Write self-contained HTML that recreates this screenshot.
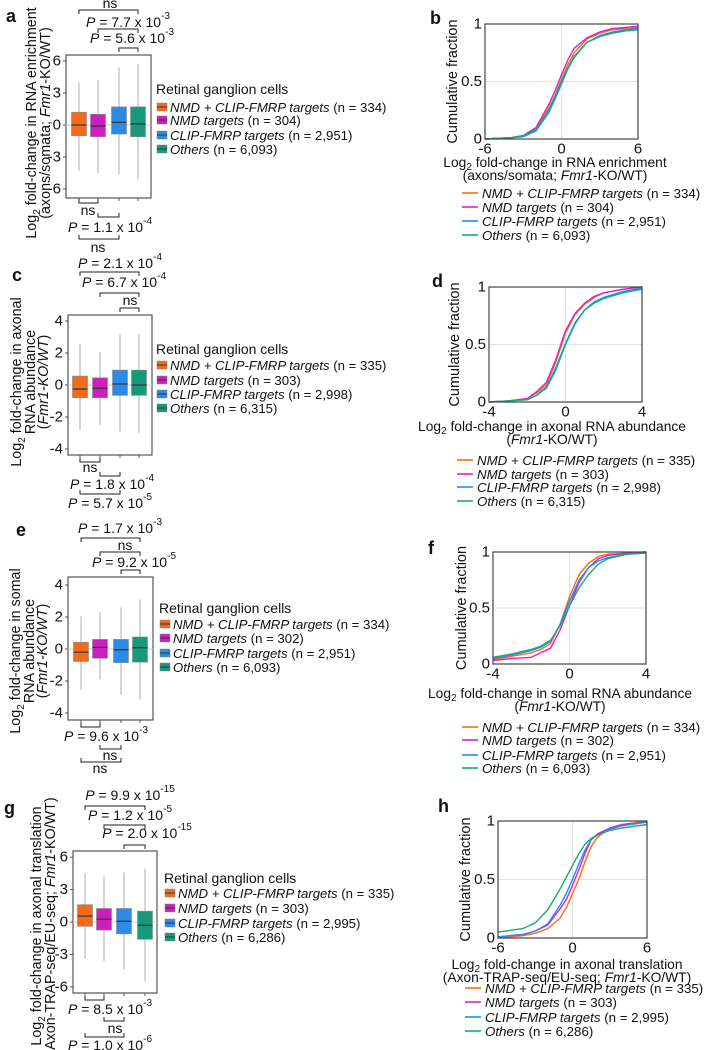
<!DOCTYPE html>
<html><head><meta charset="utf-8"><style>
html,body{margin:0;padding:0;background:#fff;}
svg{display:block;font-family:"Liberation Sans",Arial,sans-serif;}
</style></head><body>
<svg id="fig" width="708" height="1050" viewBox="0 0 708 1050" xmlns="http://www.w3.org/2000/svg"></svg>
<script>
// ---------- DATA ----------
const groups = ["NMD + CLIP-FMRP targets","NMD targets","CLIP-FMRP targets","Others"];
const colors = ["#f26a1b","#cc1fbf","#2b8be6","#17997a"];
const lineColors = ["#ff6a10","#e21fd2","#1f90f5","#1aa878"];
const nA = ["334","304","2,951","6,093"];
const nC = ["335","303","2,998","6,315"];
const nE = ["334","302","2,951","6,093"];
const nG = ["335","303","2,995","6,286"];
// box stats: [whiskerLow, q1, median, q3, whiskerHigh]
const boxA = [[-4.3,-1.0,0.0,1.2,4.0],[-4.5,-1.1,-0.1,1.0,4.2],[-4.6,-0.85,0.25,1.7,5.4],[-5.1,-1.1,0.1,1.7,5.7]];
const boxC = [[-2.8,-0.8,-0.25,0.56,2.55],[-2.5,-0.8,-0.2,0.45,2.05],[-2.9,-0.65,0.06,0.93,3.2],[-3.0,-0.65,0.0,0.93,3.2]];
const boxE = [[-2.55,-0.78,-0.2,0.42,2.05],[-1.9,-0.58,0.1,0.6,2.3],[-2.85,-0.85,-0.05,0.6,2.6],[-3.15,-0.82,0.08,0.75,3.1]];
const boxG = [[-3.4,-0.4,0.55,1.6,4.55],[-3.65,-0.75,0.27,1.25,4.2],[-4.4,-1.1,0.07,1.25,4.6],[-5.5,-1.6,-0.3,1.0,4.95]];
const ticksA = [6,3,0,-3,-6];
const ticksC = [4,2,0,-2,-4];
// CDF data
const xB = [-6,-4,-3,-2,-1,-0.5,0,0.5,1,2,3,4,5,6];
const cdfB = [
 [0,0.01,0.03,0.09,0.27,0.38,0.52,0.65,0.75,0.87,0.92,0.95,0.96,0.97],
 [0,0.01,0.03,0.10,0.30,0.42,0.56,0.69,0.79,0.88,0.93,0.96,0.97,0.98],
 [0,0.01,0.02,0.07,0.23,0.35,0.48,0.61,0.71,0.84,0.90,0.93,0.95,0.96],
 [0,0.01,0.03,0.08,0.25,0.37,0.50,0.62,0.72,0.84,0.89,0.92,0.94,0.95]];
const xD = [-4,-3,-2,-1.5,-1,-0.5,0,0.5,1,1.5,2,3,4];
const cdfD = [
 [0,0.01,0.03,0.08,0.15,0.35,0.60,0.76,0.85,0.91,0.95,0.98,1.0],
 [0,0.01,0.03,0.09,0.17,0.37,0.62,0.77,0.86,0.92,0.95,0.98,1.0],
 [0,0.01,0.02,0.06,0.12,0.28,0.50,0.68,0.80,0.87,0.91,0.96,0.99],
 [0,0.01,0.02,0.06,0.13,0.30,0.51,0.69,0.80,0.86,0.90,0.95,0.98]];
const xF = [-4,-3,-2,-1.5,-1,-0.5,0,0.5,1,1.5,2,3,4];
const cdfF = [
 [0.04,0.07,0.10,0.13,0.18,0.35,0.60,0.80,0.90,0.96,0.98,0.99,1.0],
 [0.03,0.05,0.06,0.10,0.14,0.30,0.52,0.73,0.86,0.94,0.97,0.99,1.0],
 [0.05,0.08,0.12,0.15,0.20,0.35,0.56,0.75,0.86,0.92,0.95,0.98,0.99],
 [0.06,0.09,0.13,0.16,0.21,0.34,0.52,0.68,0.80,0.89,0.94,0.98,0.99]];
const xH = [-6,-4,-3,-2,-1,-0.5,0,0.5,1,1.5,2,3,4,6];
const cdfH = [
 [0,0.02,0.04,0.08,0.17,0.26,0.38,0.50,0.65,0.78,0.86,0.94,0.97,1.0],
 [0.01,0.03,0.06,0.11,0.25,0.33,0.45,0.58,0.72,0.84,0.89,0.94,0.97,0.99],
 [0.01,0.03,0.06,0.12,0.28,0.38,0.50,0.63,0.75,0.84,0.88,0.93,0.96,0.99],
 [0.05,0.08,0.13,0.24,0.42,0.52,0.62,0.72,0.80,0.85,0.88,0.92,0.94,0.97]];

// ---------- HELPERS ----------
const NS="http://www.w3.org/2000/svg";
const FS=14;
const svg=document.getElementById('fig');
function el(tag,attrs,parent){const e=document.createElementNS(NS,tag);for(const k in attrs)e.setAttribute(k,attrs[k]);(parent||svg).appendChild(e);return e;}
function txt(x,y,s,opts,parent){opts=opts||{};const t=el('text',{x:x,y:y,'font-size':opts.fs||FS,'text-anchor':opts.anchor||'start','dominant-baseline':'central',fill:'#111'},parent);
 if(opts.weight)t.setAttribute('font-weight',opts.weight);
 if(opts.italic)t.setAttribute('font-style','italic');
 if(opts.rot)t.setAttribute('transform','rotate(-90 '+x+' '+y+')');
 t.textContent=s;return t;}
function span(t,s,opts){const ts=document.createElementNS(NS,'tspan');opts=opts||{};if(opts.italic)ts.setAttribute('font-style','italic');if(opts.sup){ts.setAttribute('baseline-shift','super');ts.setAttribute('font-size','10');}if(opts.sub){ts.setAttribute('baseline-shift','sub');ts.setAttribute('font-size','10');}ts.textContent=s;t.appendChild(ts);return ts;}
function line(x1,y1,x2,y2,c,w,parent){return el('line',{x1:x1,y1:y1,x2:x2,y2:y2,stroke:c,'stroke-width':w||1},parent);}
function pLabel(cx,cy,val,exp,g){const t=el('text',{x:cx,y:cy,'font-size':FS,'text-anchor':'middle','dominant-baseline':'central',fill:'#111'},g);
 
 span(t,'P',{italic:true});span(t,' = '+val+' x 10');span(t,exp,{sup:true});return t;}
function bracket(x1,x2,y,dir,g){const p=el('path',{d:'M'+x1+' '+(y+4*dir)+' V'+y+' H'+x2+' V'+(y+4*dir),fill:'none',stroke:'#222','stroke-width':1},g);
 }
function letter(x,y,s){const t=txt(x,y,s,{fs:18,weight:'bold'});}

function boxPanel(cfg){
 const g=el('g',{});
 const yS=v=>cfg.y0-v*cfg.ppu;
 const fr=el('rect',{x:cfg.fx1,y:cfg.fy1,width:cfg.fx2-cfg.fx1,height:cfg.fy2-cfg.fy1,fill:'none',stroke:'#555','stroke-width':1.2},g);
 
 line(cfg.fx1,yS(0),cfg.fx2,yS(0),'#ccc',1,g);
 cfg.ticks.forEach(tv=>{line(cfg.fx1-3,yS(tv),cfg.fx1,yS(tv),'#555',1,g);
  const t=txt(cfg.fx1-5,yS(tv),String(tv),{fs:15,anchor:'end'},g);});
 cfg.centers.forEach(cx=>line(cx,cfg.fy2,cx,cfg.fy2+3,'#555',1,g));
 cfg.data.forEach((d,i)=>{const cx=cfg.centers[i],w=15;
  const wl=line(cx,yS(d[0]),cx,yS(d[4]),'#bbb',1.2,g);
  const r=el('rect',{x:cx-w/2,y:yS(d[3]),width:w,height:yS(d[1])-yS(d[3]),fill:colors[i],stroke:'#888','stroke-width':0.6},g);
  
  line(cx-w/2,yS(d[2]),cx+w/2,yS(d[2]),'#333',1.2,g);});
 cfg.ytitle.forEach((ln,i)=>{const x=cfg.ytx[i];const t=el('text',{x:x,y:cfg.yty,'font-size':14.3,'text-anchor':'middle','dominant-baseline':'central',fill:'#111',transform:'rotate(-90 '+x+' '+cfg.yty+')'},g);
  
  ln.forEach(p=>span(t,p[0],p[1]));});
 const lt=txt(cfg.lx-1,cfg.ly[0],'Retinal ganglion cells',{fs:14},g);
 groups.forEach((gname,i)=>{const y=cfg.ly[i+1];const lg=el('g',{},g);
  el('rect',{x:cfg.lx,y:y-4,width:10,height:8,fill:colors[i],stroke:'#888','stroke-width':0.5},lg);line(cfg.lx,y,cfg.lx+10,y,'#333',1,lg);
  const t=el('text',{x:cfg.lx+13,y:y,'font-size':13.2,'dominant-baseline':'central',fill:'#111'},lg);span(t,gname,{italic:true});span(t,' (n = '+cfg.n[i]+')');});
 cfg.brackets.forEach(b=>bracket(cfg.centers[b[0]],cfg.centers[b[1]],b[2],b[3],g));
 cfg.labels.forEach(l=>{if(l[2]==='ns'){const t=txt(l[0],l[1],'ns',{fs:FS,anchor:'middle'},g);}else pLabel(l[0],l[1],l[2],l[3],g);});
}

function cdfPanel(cfg){
 const g=el('g',{});
 const xS=v=>cfg.x1+(v-cfg.xmin)/(cfg.xmax-cfg.xmin)*(cfg.x2-cfg.x1);
 const yS=v=>cfg.y2-v*(cfg.y2-cfg.y1);
 line(xS(0),cfg.y1,xS(0),cfg.y2,'#e2e2e2',1,g);line(cfg.x1,yS(0.5),cfg.x2,yS(0.5),'#e2e2e2',1,g);
 cfg.series.forEach((s,i)=>{const pts=s.map((v,j)=>xS(cfg.xs[j]).toFixed(1)+','+yS(v).toFixed(1)).join(' ');
  const p=el('polyline',{points:pts,fill:'none',stroke:lineColors[i],'stroke-width':1.4},g);});
 const fr=el('rect',{x:cfg.x1,y:cfg.y1,width:cfg.x2-cfg.x1,height:cfg.y2-cfg.y1,fill:'none',stroke:'#444','stroke-width':1.2},g);
 
 [[1,'1'],[0.5,'0.5'],[0,'0']].forEach(t=>{const e=txt(cfg.x1-3,yS(t[0]),t[1],{fs:15,anchor:'end'},g);});
 [cfg.xmin,0,cfg.xmax].forEach(v=>{const e=txt(xS(v),cfg.y2+10,String(v),{fs:15,anchor:'middle'},g);});
 const yt=txt(cfg.ytx,(cfg.y1+cfg.y2)/2,'Cumulative fraction',{fs:14.5,anchor:'middle',rot:true},g);
 cfg.xtitle.forEach((ln,i)=>{const t=el('text',{x:cfg.xtx,y:cfg.xty[i],'font-size':13.8,'text-anchor':'middle','dominant-baseline':'central',fill:'#111'},g);
  ln.forEach(p=>span(t,p[0],p[1]));});
 groups.forEach((gname,i)=>{const y=cfg.ly[i];const lg=el('g',{},g);
  line(cfg.lx,y,cfg.lx+16,y,lineColors[i],1.6,lg);
  const t=el('text',{x:cfg.lx+20,y:y,'font-size':13.3,'dominant-baseline':'central',fill:'#111'},lg);span(t,gname,{italic:true});span(t,' (n = '+cfg.n[i]+')');});
}

// ---------- PANELS ----------
letter(6,16,'a');letter(430,18,'b');letter(12,275,'c');letter(432,281,'d');
letter(16,530,'e');letter(428,548,'f');letter(4,808,'g');letter(438,806,'h');

boxPanel({name:'panel-a-boxplot',fx1:66,fx2:151,fy1:55,fy2:198,y0:125,ppu:10.67,ticks:ticksA,centers:[79,98,119,138],data:boxA,n:nA,
 ytitle:[[['Log'],['2',{sub:true}],[' fold-change in RNA enrichment']],[['(axons/somata; '],['Fmr1',{italic:true}],['-KO/WT)']]],ytx:[32,46],yty:123,
 lx:157,ly:[89,107,120,135,149],
 brackets:[[0,3,10,1],[1,3,29,1],[2,3,48,1],[0,1,203,-1],[1,2,217,-1],[0,2,239,-1]],
 labels:[[110,3,'ns'],[128,22,'7.7','-3'],[132,38,'5.6','-3'],[88,210,'ns'],[110,227,'1.1','-4'],[98,247,'ns']]});
boxPanel({name:'panel-c-boxplot',fx1:68,fx2:152,fy1:315,fy2:455,y0:385,ppu:16,ticks:ticksC,centers:[80,100,120,139],data:boxC,n:nC,
 ytitle:[[['Log'],['2',{sub:true}],[' fold-change in axonal']],[['RNA abundance']],[['('],['Fmr1-KO/WT',{italic:true}],[')']]],ytx:[17,31,44],yty:382,
 lx:157,ly:[349,365,380,394,408],
 brackets:[[0,3,272,1],[1,3,293,1],[2,3,308,1],[0,1,462,-1],[1,2,476,-1],[0,2,494,-1]],
 labels:[[120,263,'2.1','-4'],[124,282,'6.7','-4'],[130,300,'ns'],[90,467,'ns'],[112,484,'1.8','-4'],[110,503,'5.7','-5']]});
boxPanel({name:'panel-e-boxplot',fx1:68,fx2:153,fy1:577,fy2:720,y0:649,ppu:16,ticks:ticksC,centers:[81,100,121,140],data:boxE,n:nE,
 ytitle:[[['Log'],['2',{sub:true}],[' fold-change in somal']],[['RNA abundance']],[['('],['Fmr1-KO/WT',{italic:true}],[')']]],ytx:[16,30,43],yty:651,
 lx:160,ly:[608,624,638,653,667],
 brackets:[[0,3,538,1],[1,3,552,1],[2,3,570,1],[0,1,727,-1],[1,2,749,-1],[0,2,762,-1]],
 labels:[[120,528,'1.7','-3'],[125,545,'ns'],[134,562,'9.2','-5'],[106,736,'9.6','-3'],[110,755,'ns'],[100,768,'ns']]});
boxPanel({name:'panel-g-boxplot',fx1:73,fx2:157,fy1:851,fy2:993,y0:922,ppu:10.8,ticks:ticksA,centers:[85,104,124,145],data:boxG,n:nG,
 ytitle:[[['Log'],['2',{sub:true}],[' fold-change in axonal translation']],[['(Axon-TRAP-seq/EU-seq; '],['Fmr1',{italic:true}],['-KO/WT)']]],ytx:[37,51],yty:926,
 lx:165,ly:[878,893,908,923,937],
 brackets:[[0,3,806,1],[1,3,825,1],[2,3,845,1],[0,1,1000,-1],[1,2,1021,-1],[0,2,1037,-1]],
 labels:[[130,795,'9.9','-15'],[130,815,'1.2','-5'],[147,833,'2.0','-15'],[110,1009,'8.5','-3'],[115,1028,'ns'],[110,1045,'1.0','-6']]});

cdfPanel({name:'panel-b-cdf',x1:485,x2:638,y1:24,y2:139,xmin:-6,xmax:6,xs:xB,series:cdfB,n:nA,ytx:453,
 xtitle:[[['Log'],['2',{sub:true}],[' fold-change in RNA enrichment']],[['(axons/somata; '],['Fmr1',{italic:true}],['-KO/WT)']]],xtx:555,xty:[162,175],
 lx:462,ly:[193,207,221,235]});
cdfPanel({name:'panel-d-cdf',x1:489,x2:642,y1:287,y2:402,xmin:-4,xmax:4,xs:xD,series:cdfD,n:nC,ytx:455,
 xtitle:[[['Log'],['2',{sub:true}],[' fold-change in axonal RNA abundance']],[['('],['Fmr1',{italic:true}],['-KO/WT)']]],xtx:552,xty:[426,439],
 lx:457,ly:[460,474,487,501]});
cdfPanel({name:'panel-f-cdf',x1:493,x2:646,y1:552,y2:664,xmin:-4,xmax:4,xs:xF,series:cdfF,n:nE,ytx:462,
 xtitle:[[['Log'],['2',{sub:true}],[' fold-change in somal RNA abundance']],[['('],['Fmr1',{italic:true}],['-KO/WT)']]],xtx:560,xty:[693,706],
 lx:462,ly:[727,740,755,768]});
cdfPanel({name:'panel-h-cdf',x1:498,x2:647,y1:821,y2:938,xmin:-6,xmax:6,xs:xH,series:cdfH,n:nG,ytx:466,
 xtitle:[[['Log'],['2',{sub:true}],[' fold-change in axonal translation']],[['(Axon-TRAP-seq/EU-seq; '],['Fmr1',{italic:true}],['-KO/WT)']]],xtx:567,xty:[964,977],
 lx:465,ly:[988,1002,1017,1031]});
</script>
</body></html>
